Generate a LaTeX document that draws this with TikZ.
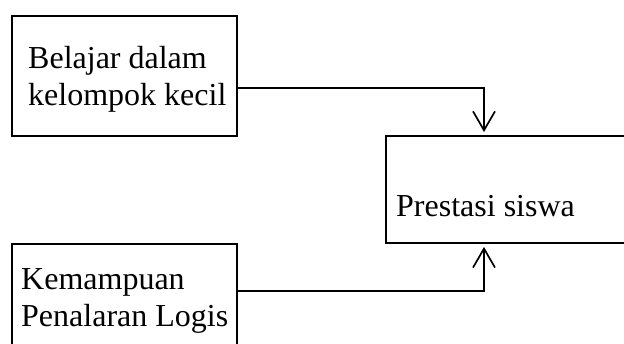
\documentclass[tikz,border=0pt]{standalone}
\usepackage{fontspec}
\setmainfont{Liberation Serif}
\usetikzlibrary{arrows.meta}
\begin{document}
\begin{tikzpicture}[x=1pt,y=-1pt,
  box/.style={draw, line width=1.9pt, rectangle, inner sep=0pt},
  lbl/.style={anchor=base west, inner sep=0pt, font=\fontsize{32}{37}\selectfont},
  link/.style={line width=1.7pt, shorten >=3pt,
    -{Straight Barb[length=19pt,width=22pt,line width=1.7pt]}}]
\useasboundingbox (0,0) rectangle (624,343);
\clip (0,0) rectangle (624,343);
% boxes
\node[box, minimum width=225pt, minimum height=120pt, anchor=north west] (b1) at (11,15) {};
\node[box, minimum width=250pt, minimum height=107pt, anchor=north west] (b2) at (385,135) {};
\node[box, minimum width=225pt, minimum height=130pt, anchor=north west] (b3) at (11,243) {};
% labels
\node[lbl] (t1a) at (28,68) {Belajar dalam};
\node[lbl] (t1b) at (28,105) {kelompok kecil};
\node[lbl] (t2) at (396,216) {Prestasi siswa};
\node[lbl] (t3a) at (21,289) {Kemampuan};
\node[lbl] (t3b) at (21,326) {Penalaran Logis};
% connectors
\draw[link] ([yshift=-12pt]b1.east) -| ([xshift=99pt]b2.north west);
\draw[link] ([yshift=18pt]b3.east) -| ([xshift=99pt]b2.south west);
\end{tikzpicture}
\end{document}
